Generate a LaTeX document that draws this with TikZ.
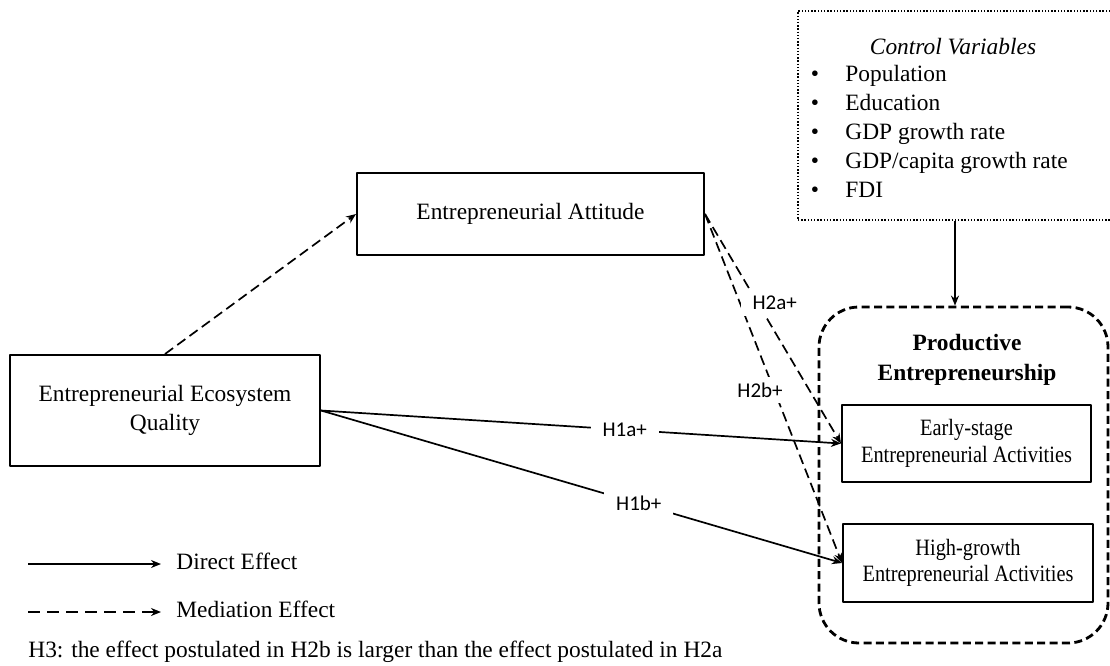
\documentclass[tikz,border=0pt]{standalone}
\usepackage{fontspec}
\setmainfont{Liberation Serif}
\newfontfamily\hypfont{Carlito}
\newfontfamily\narrowfont[FakeStretch=0.87]{Liberation Serif}
\usetikzlibrary{arrows.meta}

\begin{document}
\begin{tikzpicture}[x=0.5pt,y=-0.5pt,font=\fontsize{11.7}{14.5}\selectfont,line join=round,
	>={Stealth[length=5pt,width=4pt]},
	box/.style={draw,line width=1pt,align=center,inner sep=0pt},
	direct/.style={->,line width=0.85pt},
	mediation/.style={->,line width=0.85pt,dash pattern=on 5pt off 2.6pt},
	hyp/.style={font=\hypfont\fontsize{10.5}{12}\selectfont,fill=white,inner xsep=6pt,inner ysep=3pt},
	item/.style={anchor=west,inner sep=0pt,text height=8pt,text depth=2.5pt}]
	\useasboundingbox (0,0) rectangle (1110,665);
	% variables
	\node[box,minimum width=155pt,minimum height=55.5pt] (eco) at (165,410.5) {Entrepreneurial Ecosystem\\Quality};
	\node[box,minimum width=173.5pt,minimum height=41pt] (att) at (530.5,214) {Entrepreneurial Attitude};
	\node[draw,line width=1.4pt,dash pattern=on 4pt off 2.2pt,rounded corners=20pt,minimum width=144.5pt,minimum height=168pt] (pe) at (963.5,475) {};
	\node[font=\fontsize{11.7}{15}\selectfont\bfseries,align=center] (petitle) at (967,360) {Productive\\Entrepreneurship};
	\node[box,font=\narrowfont\fontsize{11.7}{13.2}\selectfont,minimum width=124.5pt,minimum height=38.5pt] (early) at (966.5,443.5) {Early-stage\\Entrepreneurial Activities};
	\node[box,font=\narrowfont\fontsize{11.7}{13.2}\selectfont,minimum width=125pt,minimum height=39pt] (high) at (968,563) {High-growth\\Entrepreneurial Activities};
	% control variables
	\node[draw,line width=0.7pt,dash pattern=on 0.7pt off 0.9pt,minimum width=157pt,minimum height=104.5pt,inner sep=0pt] (ctrl) at (955,115.5) {};
	\node (ctrltitle) at (953,47) {\textit{Control Variables}};
	\foreach \i/\t in {0/Population,1/Education,2/GDP growth rate,3/{GDP/capita growth rate},4/FDI}{
		\node[inner sep=0pt] (bul\i) at (815,76+29*\i) {\textbullet};
		\node[item] (var\i) at (845,76+29*\i) {\t};
	}
	% effects
	\draw[mediation] (eco.north) -- (att.west);
	\draw[direct] (eco.east) -- node[hyp,pos=0.584] (h1a) {H1a+} (early.west);
	\draw[direct] (eco.east) -- node[hyp,pos=0.61] (h1b) {H1b+} (high.west);
	\draw[mediation] (att.east) -- node[hyp,pos=0.504,xshift=-7pt] (h2b) {H2b+} (high.west);
	\draw[mediation] (att.east) -- node[hyp,pos=0.388,xshift=8.5pt] (h2a) {H2a+} (early.west);
	\draw[direct] (ctrl.south) -- (ctrl.south |- pe.north);
	% legend
	\coordinate (d1) at (28,564);
	\coordinate (d2) at (161,564);
	\coordinate (m1) at (28,612);
	\coordinate (m2) at (161,612);
	\draw[direct] (d1) -- (d2);
	\draw[->,line width=0.9pt,dash pattern=on 6pt off 3.5pt] (m1) -- (m2);
	\path
	(176,564) node[item] (dlab) {Direct Effect}
	(176,612) node[item] (mlab) {Mediation Effect}
	(28,652) node[item] (note) {H3: the effect postulated in H2b is larger than the effect postulated in H2a}
	;
\end{tikzpicture}
\end{document}
